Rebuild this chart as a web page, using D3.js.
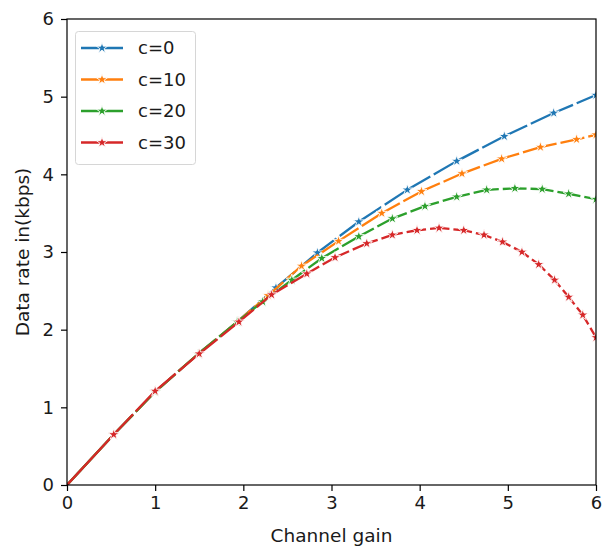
<!DOCTYPE html>
<html>
<head>
<meta charset="utf-8">
<script src="https://cdn.jsdelivr.net/npm/d3@7"></script>
<style>
  body { margin: 0; background: #fff; }
  text { font-family: "DejaVu Sans", sans-serif; fill: #1a1a1a; }
</style>
</head>
<body>
<svg width="603" height="547"></svg>
<script>
// values (marker positions)
const seriesNames = ["c=0", "c=10", "c=20", "c=30"];
const colors = ["#1f77b4", "#ff7f0e", "#2ca02c", "#d62728"];

const gain0 = [0, 0.53, 1.0, 1.49, 1.93, 2.37, 2.84, 3.31, 3.86, 4.42, 4.96, 5.52, 6.0];
const rate0 = [0, 0.65, 1.2, 1.69, 2.1, 2.54, 2.99, 3.39, 3.80, 4.17, 4.49, 4.79, 5.02];

const gain10 = [0, 0.53, 1.0, 1.49, 1.93, 2.28, 2.66, 3.08, 3.57, 4.02, 4.48, 4.93, 5.37, 5.78, 6.0];
const rate10 = [0, 0.65, 1.2, 1.69, 2.1, 2.44, 2.82, 3.14, 3.50, 3.78, 4.01, 4.20, 4.35, 4.45, 4.51];

const gain20 = [0, 0.53, 1.0, 1.49, 1.93, 2.22, 2.55, 2.89, 3.31, 3.69, 4.06, 4.42, 4.76, 5.08, 5.39, 5.69, 6.0];
const rate20 = [0, 0.65, 1.2, 1.69, 2.1, 2.36, 2.64, 2.92, 3.20, 3.43, 3.59, 3.71, 3.80, 3.82, 3.81, 3.75, 3.68];

const gain30 = [0, 0.53, 1.0, 1.5, 1.95, 2.32, 2.72, 3.04, 3.40, 3.69, 3.97, 4.22, 4.50, 4.73, 4.94, 5.16, 5.35, 5.53, 5.69, 5.85, 6.0];
const rate30 = [0, 0.65, 1.21, 1.69, 2.1, 2.45, 2.72, 2.93, 3.11, 3.22, 3.28, 3.31, 3.28, 3.22, 3.13, 3.00, 2.84, 2.64, 2.42, 2.19, 1.90];

const xTicks = [0, 1, 2, 3, 4, 5, 6];
const yTicks = [0, 1, 2, 3, 4, 5, 6];

const allGains = [gain0, gain10, gain20, gain30];
const allRates = [rate0, rate10, rate20, rate30];

const svg = d3.select("svg");
const mLeft = 67, mRight = 596, mTop = 19, mBottom = 485;

const x = d3.scaleLinear().domain([0, 6]).range([mLeft, mRight]);
const y = d3.scaleLinear().domain([0, 6]).range([mBottom, mTop]);

// clip to the axes box
svg.append("clipPath").attr("id", "plotClip")
  .append("rect")
  .attr("x", mLeft).attr("y", mTop)
  .attr("width", mRight - mLeft).attr("height", mBottom - mTop);

const star = d3.symbol().type(d3.symbolStar).size(38);
const plot = svg.append("g").attr("clip-path", "url(#plotClip)");

const gap = 4;
allGains.forEach((gs, k) => {
  const pts = gs.map((g, i) => [x(g), y(allRates[k][i])]);

  // one short gap in the middle of every stretch between markers
  const dashes = [];
  for (let i = 1; i < pts.length; i++) {
    const len = Math.hypot(pts[i][0] - pts[i - 1][0], pts[i][1] - pts[i - 1][1]);
    if (i === 1) { dashes.push(len, 0); continue; }
    const half = (len - gap) / 2;
    dashes.push(half, gap, half, 0);
  }

  plot.append("path")
    .datum(pts)
    .attr("fill", "none")
    .attr("stroke", colors[k])
    .attr("stroke-width", 2.3)
    .attr("stroke-dasharray", dashes.join(" "))
    .attr("d", d3.line());

  plot.selectAll(null)
    .data(pts.slice(1))
    .enter().append("path")
    .attr("transform", d => `translate(${d[0]},${d[1]})`)
    .attr("d", star)
    .attr("fill", colors[k])
    .attr("stroke", "#fff")
    .attr("stroke-width", 0.9);
});

// axes
const xAxis = svg.append("g")
  .attr("transform", `translate(0,${mBottom})`)
  .call(d3.axisBottom(x).tickValues(xTicks).tickFormat(d3.format("d")).tickSize(6).tickPadding(5));
const yAxis = svg.append("g")
  .attr("transform", `translate(${mLeft},0)`)
  .call(d3.axisLeft(y).tickValues(yTicks).tickFormat(d3.format("d")).tickSize(6).tickPadding(7));

[xAxis, yAxis].forEach(a => {
  a.selectAll("text").style("font-size", "18px").style("font-family", "DejaVu Sans").attr("fill", "#1a1a1a");
  a.selectAll("line").attr("stroke", "#000").attr("stroke-width", 1.2);
  a.select(".domain").remove();
});

// frame
svg.append("rect")
  .attr("x", mLeft).attr("y", mTop)
  .attr("width", mRight - mLeft).attr("height", mBottom - mTop)
  .attr("fill", "none").attr("stroke", "#000").attr("stroke-width", 1.2);

// axis labels
svg.append("text")
  .attr("x", (mLeft + mRight) / 2).attr("y", 541.5)
  .attr("text-anchor", "middle")
  .style("font-size", "18.5px")
  .text("Channel gain");

svg.append("text")
  .attr("transform", `translate(29,${(mTop + mBottom) / 2}) rotate(-90)`)
  .attr("text-anchor", "middle")
  .style("font-size", "18.5px")
  .text("Data rate in(kbps)");

// legend
const legend = svg.append("g");
legend.append("rect")
  .attr("x", 75.5).attr("y", 31.5)
  .attr("width", 120).attr("height", 133)
  .attr("rx", 3)
  .attr("fill", "#fff").attr("fill-opacity", 0.8)
  .attr("stroke", "#d6d6d6").attr("stroke-width", 1);

seriesNames.forEach((name, k) => {
  const cy = 48 + k * 31.5;
  legend.append("line")
    .attr("x1", 81).attr("x2", 123)
    .attr("y1", cy).attr("y2", cy)
    .attr("stroke", colors[k]).attr("stroke-width", 2.3);
  legend.append("path")
    .attr("transform", `translate(102,${cy})`)
    .attr("d", star)
    .attr("fill", colors[k])
    .attr("stroke", "#fff").attr("stroke-width", 0.9);
  legend.append("text")
    .attr("x", 138).attr("y", cy)
    .attr("dy", "0.36em")
    .style("font-size", "18px")
    .text(name);
});
</script>
</body>
</html>
